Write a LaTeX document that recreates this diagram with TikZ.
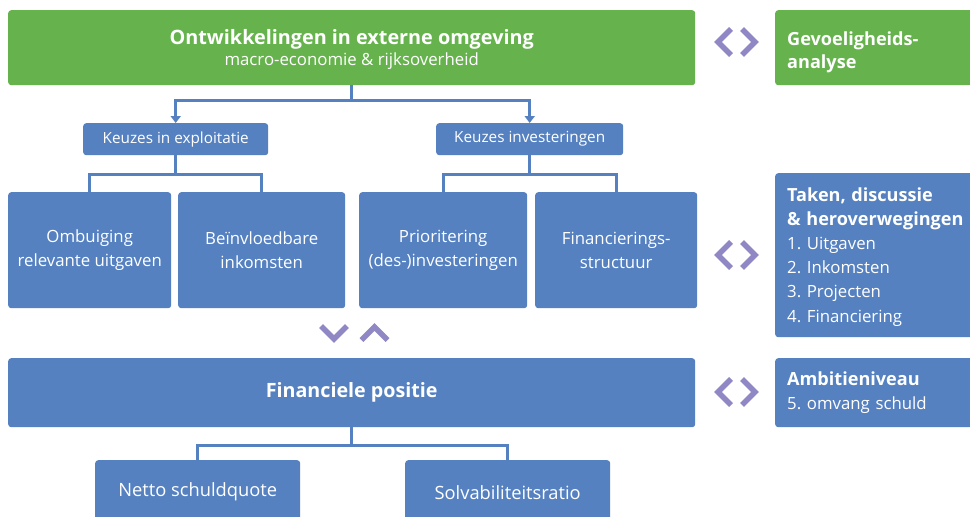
\documentclass[tikz,border=0pt]{standalone}
\usepackage{fontspec}
\setmainfont{Open Sans}
\usetikzlibrary{arrows.meta,positioning}
\definecolor{groen}{HTML}{66B34D}
\definecolor{blauw}{HTML}{5581C1}
\definecolor{paars}{HTML}{9088C4}
\tikzset{
  blok/.style={fill=blauw, text=white, rounded corners=3pt, inner sep=0pt, align=center, anchor=north west},
  groenblok/.style={blok, fill=groen},
  zijblok/.style={blok, align=left, text width=206pt, inner xsep=12pt, minimum width=230pt},
  lijn/.style={draw=blauw, line width=3pt},
  pijl/.style={lijn, -{Triangle[width=10pt,length=7pt]}},
  chev/.style={draw=paars, line width=5.5pt}
}
\frenchspacing
\newcommand{\gewoon}{\fontsize{16.8}{24.2}\selectfont}
\newcommand{\vet}[1]{{\fontsize{18.1}{24.2}\selectfont\bfseries #1}}

\begin{document}
\begin{tikzpicture}[x=1pt, y=-1pt]
\useasboundingbox (0,0) rectangle (970,517);
\clip (0,0) rectangle (970,517);
% bovenste rij
\node[groenblok, minimum width=687pt, minimum height=75pt, text depth=0pt, font=\fontsize{16.8}{21}\selectfont] (omgeving) at (8,10)
  {{\fontsize{19.8}{23}\selectfont\bfseries Ontwikkelingen in externe omgeving}\\macro-economie \& rijksoverheid};
\node[zijblok, fill=groen, minimum height=75pt, text height=22pt, font=\fontsize{18.1}{23}\selectfont] (gevoelig) at (775,10) {\vet{Gevoeligheids-}\\\vet{analyse}};
% keuzes
\node[blok, minimum width=185pt, minimum height=32pt, font=\fontsize{15.3}{18}\selectfont] (exploitatie) at (83,123) {Keuzes in exploitatie};
\node[blok, minimum width=187pt, minimum height=32pt, font=\fontsize{15.3}{18}\selectfont] (investering) at (436,123) {Keuzes investeringen};
% middelste rij
\node[blok, minimum width=163pt, minimum height=116pt, font=\gewoon] (ombuiging) at (8,192) {Ombuiging\\relevante uitgaven};
\node[blok, minimum width=167pt, minimum height=116pt, font=\gewoon] (inkomsten) at (178,192) {Beïnvloedbare\\inkomsten};
\node[blok, minimum width=168pt, minimum height=116pt, font=\gewoon] (prioriteit) at (359,192) {Prioritering\\(des-)investeringen};
\node[blok, minimum width=162pt, minimum height=116pt, font=\gewoon] (structuur) at (535,192) {Financierings-\\structuur};
\node[zijblok, minimum height=164pt, text height=16.8pt, font=\gewoon] (taken) at (775,173)
  {\vet{Taken, discussie}\\\vet{\& heroverwegingen}\\1. Uitgaven\\2. Inkomsten\\3. Projecten\\4. Financiering};
% financiele positie
\node[blok, minimum width=687pt, minimum height=69pt, font=\fontsize{19.7}{23}\selectfont\bfseries] (positie) at (8,358) {Financiele positie};
\node[zijblok, minimum height=69pt, font=\gewoon] (ambitie) at (775,358) {\vet{Ambitieniveau}\\5. omvang schuld};
\node[blok, minimum width=205pt, minimum height=64pt, font=\fontsize{18.3}{22}\selectfont] (netto) at (95,460) {Netto schuldquote};
\node[blok, minimum width=205pt, minimum height=64pt, font=\fontsize{18.3}{22}\selectfont] (solvabiliteit) at (405,460) {Solvabiliteitsratio};
% verbindingen
\draw[pijl] (omgeving.south) -- ++(0,15) -| (exploitatie.north);
\draw[pijl] (omgeving.south) -- ++(0,15) -| (investering.north);
\draw[lijn] (exploitatie.south) -- ++(0,19) -| (ombuiging.north);
\draw[lijn] (exploitatie.south) -- ++(0,19) -| (inkomsten.north);
\draw[lijn] (investering.south) -- ++(0,19) -| (prioriteit.north);
\draw[lijn] (investering.south) -- ++(0,19) -| (structuur.north);
\draw[lijn] (positie.south) -- ++(0,18) -| (netto.north);
\draw[lijn] (positie.south) -- ++(0,18) -| (solvabiliteit.north);
% pijltjes
\draw[chev] (731,29) -- (718,42) -- (731,55);
\draw[chev] (742,29) -- (755,42) -- (742,55);
\draw[chev] (731,242) -- (718,255) -- (731,268);
\draw[chev] (742,242) -- (755,255) -- (742,268);
\draw[chev] (731,379) -- (718,392) -- (731,405);
\draw[chev] (742,379) -- (755,392) -- (742,405);
\draw[chev] (321,326) -- (334,339) -- (347,326);
\draw[chev] (361.5,340) -- (374.5,327) -- (387.5,340);
\end{tikzpicture}
\end{document}
